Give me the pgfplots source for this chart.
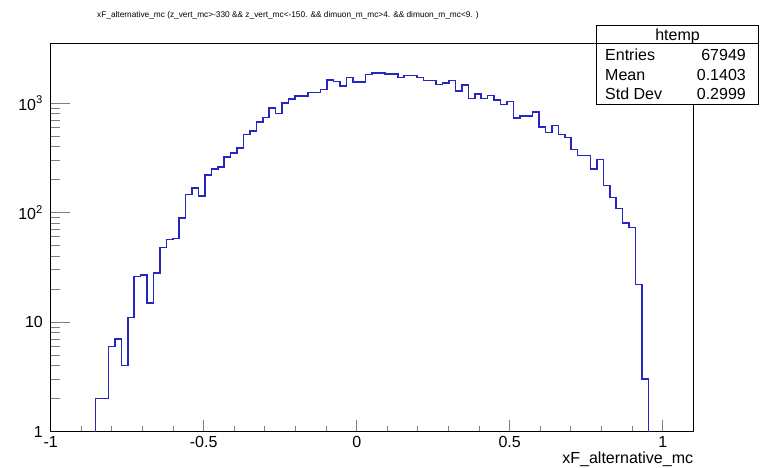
\documentclass[border=0pt]{standalone}
\usepackage{fontspec}
\setmainfont{Liberation Sans}
\usepackage{pgfplots}
\pgfplotsset{compat=1.18}
\usepackage{pgfplotstable}
\definecolor{rootblue}{RGB}{38,38,192}

\pgfplotstableread{
x y
-0.853 1
-0.853 2
-0.832 2
-0.811 6
-0.790 7
-0.769 4
-0.748 11
-0.727 26
-0.706 27
-0.685 15
-0.664 28
-0.643 48
-0.622 57
-0.601 58
-0.580 89
-0.559 147
-0.538 167
-0.517 142
-0.496 221
-0.475 252
-0.454 261
-0.433 322
-0.412 353
-0.391 392
-0.370 520
-0.349 558
-0.328 673
-0.307 738
-0.286 910
-0.265 808
-0.244 1010
-0.223 1090
-0.202 1170
-0.181 1170
-0.160 1250
-0.139 1250
-0.118 1340
-0.097 1625
-0.076 1585
-0.055 1430
-0.034 1720
-0.013 1570
0.008 1570
0.029 1835
0.050 1895
0.071 1895
0.092 1840
0.113 1840
0.134 1715
0.155 1785
0.176 1785
0.197 1715
0.218 1620
0.239 1620
0.260 1485
0.281 1535
0.302 1620
0.323 1294
0.344 1470
0.365 1105
0.386 1210
0.407 1105
0.428 1180
0.449 1065
0.470 977
0.491 1035
0.512 733
0.533 762
0.554 762
0.575 832
0.596 606
0.617 538
0.638 628
0.659 520
0.680 485
0.701 379
0.722 334
0.743 334
0.764 252
0.785 305
0.806 177
0.827 137
0.848 109
0.869 80
0.890 73
0.911 22
0.932 3
0.953 1
}\histdata

\begin{document}
\begin{tikzpicture}
\useasboundingbox (0pt,0pt) rectangle (768pt,467pt);
\begin{axis}[
  at={(50.7pt,35.5pt)}, anchor=south west,
  scale only axis, width=642.6pt, height=388.2pt,
  xmin=-1, xmax=1.1, ymin=1, ymax=3530, ymode=log,
  axis line style={line width=1pt},
  xtick={-1,-0.5,0,0.5,1}, xticklabels={-1,-0.5,0,0.5,1},
  minor x tick num=4,
  ytick={1,10,100,1000},
  yticklabels={1,10,10\textsuperscript{2},10\textsuperscript{3}},
  xtick pos=bottom, ytick pos=left, tick align=inside,
  xtick style={line width=1pt, /pgfplots/major tick length=11.6pt, /pgfplots/minor tick length=5.8pt},
  ytick style={line width=1pt, /pgfplots/major tick length=19.3pt, /pgfplots/minor tick length=9.6pt},
  ticklabel style={font=\fontsize{16}{19}\selectfont, inner sep=0pt},
  xticklabel style={anchor=north, yshift=-4.5pt},
  yticklabel style={anchor=east, xshift=-7.7pt},
]
\addplot[const plot mark left, rootblue, line width=1.6pt, mark=none] table[x=x,y=y]{\histdata};
\end{axis}
% x axis title
\node[anchor=base east, inner sep=0pt, font=\fontsize{16}{19}\selectfont] at (693.3pt,3.3pt) {xF\_alternative\_mc};
% title
\node[anchor=base west, inner sep=0pt, font=\fontsize{8.3}{10}\selectfont] at (97pt,449pt)
  {xF\_alternative\_mc (z\_vert\_mc>-330 \&\& z\_vert\_mc<-150. \&\& dimuon\_m\_mc>4. \&\& dimuon\_m\_mc<9. )};
% stats box
\draw[line width=1pt, fill=white] (596.7pt,363pt) rectangle (758.3pt,441.3pt);
\draw[line width=1pt] (596.7pt,423.2pt) -- (758.3pt,423.2pt);
\begin{scope}[every node/.style={inner sep=0pt, font=\fontsize{16}{19}\selectfont}]
\node[anchor=base] at (677.5pt,426pt) {htemp};
\node[anchor=base west] at (605pt,406pt) {Entries};
\node[anchor=base east] at (746pt,406pt) {67949};
\node[anchor=base west] at (605pt,386.5pt) {Mean};
\node[anchor=base east] at (746pt,386.5pt) {0.1403};
\node[anchor=base west] at (605pt,367.5pt) {Std Dev};
\node[anchor=base east] at (746pt,367.5pt) {0.2999};
\end{scope}
\end{tikzpicture}
\end{document}
